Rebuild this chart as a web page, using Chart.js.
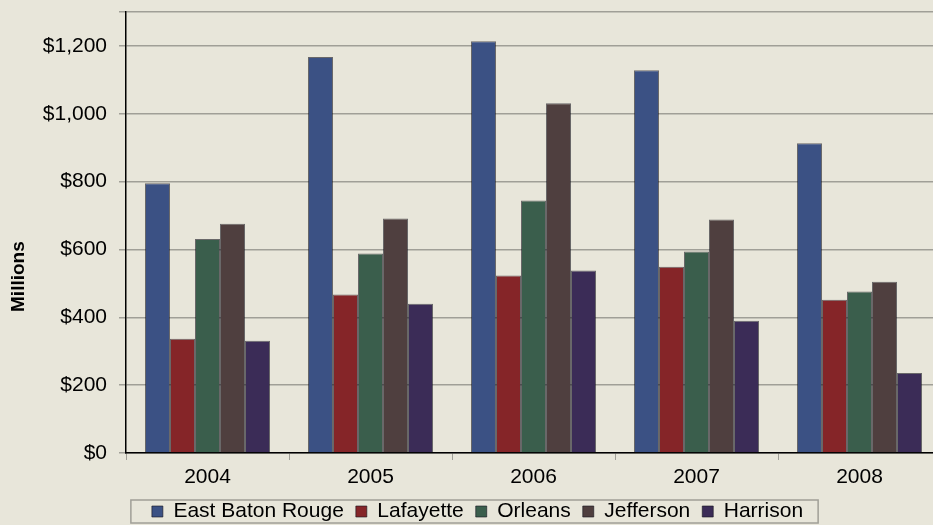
<!DOCTYPE html>
<html>
<head>
<meta charset="utf-8">
<script src="https://cdn.jsdelivr.net/npm/chart.js@4"></script>
<style>
  html, body { margin: 0; padding: 0; background: #e8e6da; overflow: hidden; }
  #wrap { width: 941px; height: 525px; position: relative; }
</style>
</head>
<body>
<div id="wrap"><canvas id="chart" width="941" height="525"></canvas></div>
<script>
const years = ['2004', '2005', '2006', '2007', '2008'];
const eastBatonRouge = [795, 1167, 1214, 1128, 913];
const lafayette = [337, 467, 523, 549, 452];
const orleans = [631, 588, 744, 594, 476];
const jefferson = [676, 691, 1031, 688, 505];
const harrison = [331, 440, 538, 390, 236];
const yTitle = 'Millions';

// grey frame round the legend, and the axis title sitting a bit low like the original
const extras = {
    id: 'extras',
    afterDraw(chart) {
        const ctx = chart.ctx;
        const boxes = chart.legend.legendHitBoxes;
        if (boxes && boxes.length) {
            let l = Infinity, r = -Infinity, t = Infinity, b = -Infinity;
            boxes.forEach(h => {
                l = Math.min(l, h.left); r = Math.max(r, h.left + h.width);
                t = Math.min(t, h.top); b = Math.max(b, h.top + h.height);
            });
            ctx.save();
            ctx.strokeStyle = '#a09f97';
            ctx.lineWidth = 1.5;
            ctx.strokeRect(l - 21, t - 1, (r - l) + 36, (b - t) + 2);
            ctx.restore();
        }
        const area = chart.chartArea;
        ctx.save();
        ctx.translate(18.5, area.top + (area.bottom - area.top) * 0.6);
        ctx.rotate(-Math.PI / 2);
        ctx.font = 'bold 19px "Liberation Sans", Arial, sans-serif';
        ctx.fillStyle = '#000';
        ctx.textAlign = 'center';
        ctx.textBaseline = 'middle';
        ctx.fillText(yTitle, 0, 0);
        ctx.restore();
    }
};

Chart.defaults.font.family = '"Liberation Sans", Arial, sans-serif';
Chart.defaults.color = '#000';

new Chart(document.getElementById('chart'), {
    type: 'bar',
    data: {
        labels: years,
        datasets: [{
            label: 'East Baton Rouge',
            data: eastBatonRouge,
            backgroundColor: '#3b5184'
        }, {
            label: 'Lafayette',
            data: lafayette,
            backgroundColor: '#852528'
        }, {
            label: 'Orleans',
            data: orleans,
            backgroundColor: '#3a5e4c'
        }, {
            label: 'Jefferson',
            data: jefferson,
            backgroundColor: '#4f3f3f'
        }, {
            label: 'Harrison',
            data: harrison,
            backgroundColor: '#3b2c57'
        }]
    },
    options: {
        responsive: false,
        animation: false,
        maintainAspectRatio: false,
        devicePixelRatio: 1,
        layout: { padding: { top: 12, left: 14, right: 0, bottom: -7 } },
        datasets: {
            bar: {
                categoryPercentage: 0.767,
                barPercentage: 1,
                borderWidth: 1,
                borderColor: 'rgba(20,20,30,0.6)'
            }
        },
        scales: {
            x: {
                grid: {
                    offset: true,
                    drawOnChartArea: false,
                    tickLength: 7,
                    color: '#a09f97'
                },
                border: { color: '#000', width: 1.5 },
                ticks: { font: { size: 21 }, padding: 5, maxRotation: 0 },
                afterFit: s => { s.height = 36; }
            },
            y: {
                min: 0,
                max: 1300,
                ticks: {
                    stepSize: 200,
                    font: { size: 21 },
                    padding: 12,
                    callback: v => v % 200 === 0 ? '$' + v.toLocaleString('en-US') : ''
                },
                grid: { color: '#a09f97', lineWidth: 1.5, tickLength: 7 },
                border: { color: '#000', width: 1.5 },
                afterFit: s => { s.width = 112; s.paddingTop = 0; s.paddingBottom = 0; }
            }
        },
        plugins: {
            tooltip: { enabled: false },
            legend: {
                position: 'bottom',
                labels: {
                    boxWidth: 11,
                    boxHeight: 11,
                    padding: 12,
                    font: { size: 21 }
                }
            }
        }
    },
    plugins: [extras]
});
</script>
</body>
</html>
